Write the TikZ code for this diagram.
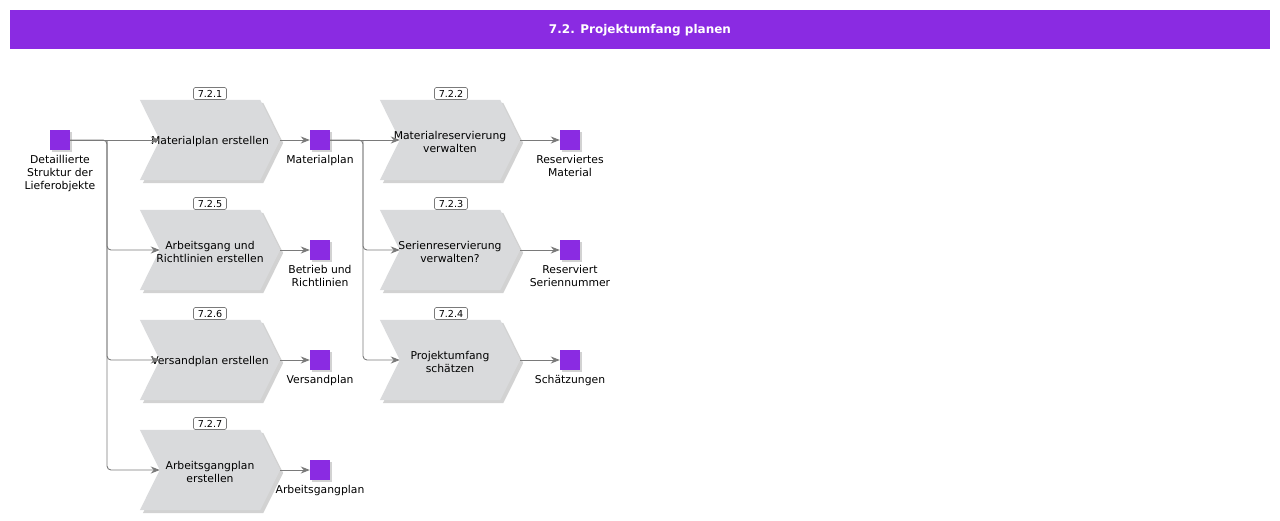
\documentclass[tikz,border=0pt]{standalone}
\usepackage{fontspec}
\setmainfont{DejaVu Sans}
\usetikzlibrary{arrows.meta,calc}
\definecolor{violetc}{HTML}{8A2BE2}
\definecolor{chevc}{HTML}{D9DADC}
\definecolor{shadc}{HTML}{D2D2D2}
\definecolor{linec}{HTML}{7A7A7A}
\tikzset{
  proc/.style={minimum width=140pt,minimum height=80pt,inner sep=0pt,align=center,
    font=\fontsize{10.8}{13}\selectfont},
  evt/.style={minimum width=20pt,minimum height=20pt,inner sep=0pt,fill=violetc},
  evtlbl/.style={align=center,inner sep=0pt,font=\fontsize{10.8}{13}\selectfont},
  numbox/.style={draw=linec,fill=white,rounded corners=1.5pt,minimum width=33pt,minimum height=12pt,
    inner sep=0pt,line width=0.6pt,font=\fontsize{9.6}{11}\selectfont},
  conn/.style={draw=linec,line width=0.9pt,-{Stealth[length=9pt,width=7pt]},rounded corners=4pt},
}
\begin{document}
\begin{tikzpicture}[x=1pt,y=-1pt]
\useasboundingbox (0,0) rectangle (1280,520);
\fill[violetc] (10,10) rectangle (1270,49);
\node[font=\bfseries\fontsize{12}{14}\selectfont,text=white] (title) at (640,30) {7.2. Projektumfang planen};

% process nodes (text holders)
\node[proc] (p1) at (210,140) {};
\node[proc] (p5) at (210,250) {};
\node[proc] (p6) at (210,360) {};
\node[proc] (p7) at (210,470) {};
\node[proc] (p2) at (450,140) {};
\node[proc] (p3) at (450,250) {};
\node[proc] (p4) at (450,360) {};

% chevron shapes
\foreach \n in {p1,p5,p6,p7,p2,p3,p4}{
  \fill[shadc] ([shift={(3pt,-3pt)}]\n.north west) -- ([shift={(-17pt,-3pt)}]\n.north east)
    -- ([shift={(3pt,-3pt)}]\n.east) -- ([shift={(-17pt,-3pt)}]\n.south east)
    -- ([shift={(3pt,-3pt)}]\n.south west) -- ([shift={(23pt,-3pt)}]\n.west) -- cycle;
  \fill[chevc] (\n.north west) -- ([xshift=-20pt]\n.north east) -- (\n.east)
    -- ([xshift=-20pt]\n.south east) -- (\n.south west) -- ([xshift=20pt]\n.west) -- cycle;
  \coordinate (\n-in) at ([xshift=20pt]\n.west);
}

% texts
\node[proc] at ([yshift=-1.5pt]p1) {Materialplan erstellen};
\node[proc] at ([yshift=-1.5pt]p5) {Arbeitsgang und\\Richtlinien erstellen};
\node[proc] at ([yshift=-1.5pt]p6) {Versandplan erstellen};
\node[proc] at ([yshift=-1.5pt]p7) {Arbeitsgangplan\\erstellen};
\node[proc] at ([yshift=-1.5pt]p2) {Materialreservierung\\verwalten};
\node[proc] at ([yshift=-1.5pt]p3) {Serienreservierung\\verwalten?};
\node[proc] at ([yshift=-1.5pt]p4) {Projektumfang\\schätzen};

% number boxes
\node[numbox] (n1) at (210,93.5) {7.2.1};
\node[numbox] (n5) at (210,203.5) {7.2.5};
\node[numbox] (n6) at (210,313.5) {7.2.6};
\node[numbox] (n7) at (210,423.5) {7.2.7};
\node[numbox] (n2) at (451,93.5) {7.2.2};
\node[numbox] (n3) at (451,203.5) {7.2.3};
\node[numbox] (n4) at (451,313.5) {7.2.4};

% events
\foreach \nm/\x/\y in {e0/60/140,e1/320/140,e5/320/250,e6/320/360,e7/320/470,e2/570/140,e3/570/250,e4/570/360}{
  \fill[shadc] (\x-8,\y-8) rectangle (\x+12,\y+12);
  \node[evt] (\nm) at (\x,\y) {};
}

% event labels
\node[evtlbl,anchor=north] (l0) at (60,155.5) {Detaillierte\\Struktur der\\Lieferobjekte};
\node[evtlbl,anchor=north] (l1) at (320,155.5) {Materialplan};
\node[evtlbl,anchor=north] (l5) at (320,265.5) {Betrieb und\\Richtlinien};
\node[evtlbl,anchor=north] (l6) at (320,375.5) {Versandplan};
\node[evtlbl,anchor=north] (l7) at (320,485.5) {Arbeitsgangplan};
\node[evtlbl,anchor=north] (l2) at (570,155.5) {Reserviertes\\Material};
\node[evtlbl,anchor=north] (l3) at (570,265.5) {Reserviert\\Seriennummer};
\node[evtlbl,anchor=north] (l4) at (570,375.5) {Schätzungen};

% connectors
\coordinate (b0) at (107,140);
\coordinate (b1) at (363,140);
\draw[conn] (e0.east) -- (p1-in);
\draw[conn] (e0.east) -- (b0) |- (p5-in);
\draw[conn] (b0) |- (p6-in);
\draw[conn] (b0) |- (p7-in);
\draw[conn] (e1.east) -- (p2-in);
\draw[conn] (e1.east) -- (b1) |- (p3-in);
\draw[conn] (b1) |- (p4-in);
\foreach \a/\b in {p1/e1,p5/e5,p6/e6,p7/e7,p2/e2,p3/e3,p4/e4}{
  \draw[conn] (\a.east) -- (\b.west);
}
\end{tikzpicture}
\end{document}
